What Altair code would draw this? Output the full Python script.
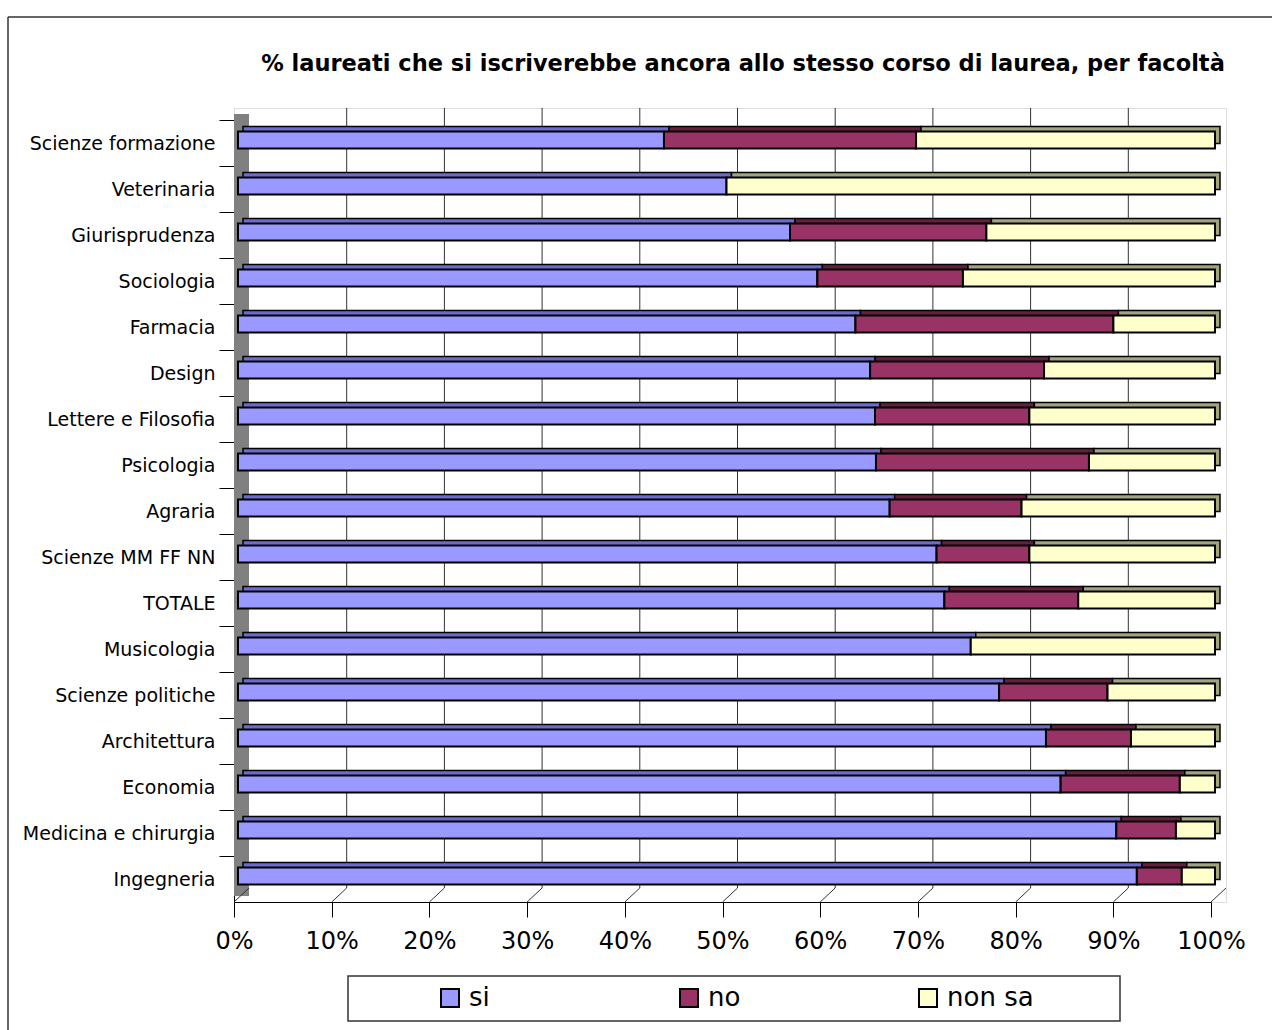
import altair as alt
import pandas as pd

# ---- data ----
facolta = [
    "Scienze formazione", "Veterinaria", "Giurisprudenza", "Sociologia", "Farmacia",
    "Design", "Lettere e Filosofia", "Psicologia", "Agraria", "Scienze MM FF NN",
    "TOTALE", "Musicologia", "Scienze politiche", "Architettura", "Economia",
    "Medicina e chirurgia", "Ingegneria",
]
si = [43.6, 50.0, 56.5, 59.3, 63.2, 64.7, 65.2, 65.3, 66.7, 71.5, 72.3, 75.0, 77.9, 82.7, 84.2, 89.9, 92.0]
no = [25.8, 0.0, 20.1, 14.9, 26.4, 17.8, 15.8, 21.8, 13.5, 9.5, 13.7, 0.0, 11.1, 8.7, 12.2, 6.1, 4.6]
non_sa = [30.6, 50.0, 23.4, 25.8, 10.4, 17.5, 19.0, 12.9, 19.8, 19.0, 14.0, 25.0, 11.0, 8.6, 3.6, 4.0, 3.4]

risposte = ["si", "no", "non sa"]
colori = ["#9999FF", "#993366", "#FFFFCC"]
colori_prof = ["#6B6BD0", "#66203F", "#A3A37E"]
tacche = [0, 10, 20, 30, 40, 50, 60, 70, 80, 90, 100]
griglia = [10, 20, 30, 40, 50, 60, 70, 80, 90]

titolo = "% laureati che si iscriverebbe ancora allo stesso corso di laurea, per facoltà"
FONT = "DejaVu Sans"

rows = []
for i, f in enumerate(facolta):
    for k, (r, vals) in enumerate(zip(risposte, [si, no, non_sa])):
        if vals[i] > 0:
            rows.append({"facolta": f, "risposta": r, "valore": vals[i], "ordine": k})
df = pd.DataFrame(rows)
df_grid = pd.DataFrame({"v": griglia})
df_ticks = pd.DataFrame({"v": tacche})
df_one = pd.DataFrame({"v": [0]})

xscale = alt.Scale(domain=[0, 100], range=[0, 977], nice=False, zero=True)
yscale = alt.Scale(domain=facolta, range=[12, 794], paddingInner=0.63, paddingOuter=0.315)

x_axis = alt.Axis(
    title=None, values=tacche, labelExpr="datum.value + '%'", tickSize=15,
    tickColor="black", domainColor="black", labelFont=FONT, labelFontSize=24,
    labelColor="black", labelPadding=12, labelFlush=False, grid=False,
)
y_axis = alt.Axis(
    title=None, tickSize=15, tickOffset=-23, labelOffset=23, tickColor="black",
    domainColor="black", labelFont=FONT, labelFontSize=19, labelColor="black",
    labelPadding=4, labelLimit=400, grid=False,
)

# legend box (frame behind the legend entries)
legend_box = alt.Chart(df_one).mark_rect(fill="white", stroke="#333333", strokeWidth=1.5).encode(
    x=alt.value(114), x2=alt.value(886), y=alt.value(868), y2=alt.value(913)
)

# left wall
wall = alt.Chart(df_one).mark_rect(color="#808080", x2Offset=15).encode(
    x=alt.X("v:Q", scale=xscale, axis=x_axis),
    x2=alt.X2("v"),
    y=alt.value(6),
    y2=alt.value(788),
)

# back-wall gridlines
grid = alt.Chart(df_grid).mark_rule(color="#333333", strokeWidth=1, xOffset=15).encode(
    x=alt.X("v:Q", scale=xscale, axis=x_axis),
    y=alt.value(0),
    y2=alt.value(780),
)

# floor diagonals
floor = alt.Chart(df_ticks).mark_rule(color="#333333", strokeWidth=1, x2Offset=15).encode(
    x=alt.X("v:Q", scale=xscale, axis=x_axis),
    x2=alt.X2("v"),
    y=alt.value(794),
    y2=alt.value(780),
)

# depth (3D top / end faces)
depth = alt.Chart(df).mark_bar(xOffset=9, yOffset=-8, stroke="black", strokeWidth=1.5).encode(
    y=alt.Y("facolta:N", scale=yscale, axis=y_axis),
    x=alt.X("valore:Q", stack="zero", scale=xscale, axis=x_axis),
    color=alt.Color("risposta:N", scale=alt.Scale(domain=risposte, range=colori_prof), legend=None),
    order=alt.Order("ordine:Q"),
)

front = alt.Chart(df).mark_bar(xOffset=4, yOffset=-3, stroke="black", strokeWidth=2).encode(
    y=alt.Y("facolta:N", scale=yscale, axis=y_axis),
    x=alt.X("valore:Q", stack="zero", scale=xscale, axis=x_axis),
    color=alt.Color(
        "risposta:N",
        scale=alt.Scale(domain=risposte, range=colori),
        legend=alt.Legend(
            title=None, orient="none", legendX=114, legendY=868, direction="horizontal",
            symbolType="square", symbolSize=324, symbolStrokeColor="black", symbolStrokeWidth=2,
            symbolOffset=80, labelOffset=6, columnPadding=40, gridAlign="all",
            labelFont=FONT, labelFontSize=26, labelColor="black", labelLimit=400,
            padding=9,
        ),
    ),
    order=alt.Order("ordine:Q"),
)

# outer frame (left and top edges)
frame_v = alt.Chart(df_one).mark_rule(color="#333333", strokeWidth=1.5).encode(
    x=alt.value(-226), y=alt.value(-91), y2=alt.value(930)
)
frame_h = alt.Chart(df_one).mark_rule(color="#333333", strokeWidth=1.5).encode(
    x=alt.value(-226), x2=alt.value(1050), y=alt.value(-91)
)

chart = (
    alt.layer(legend_box, wall, grid, floor, depth, front, frame_v, frame_h)
    .resolve_scale(color="independent")
    .properties(
        width=992,
        height=794,
        autosize=alt.AutoSizeParams(type="none"),
        padding={"left": 234, "top": 108, "right": 46, "bottom": 128},
        title=alt.Title(
            titolo, font=FONT, fontSize=22.5, fontWeight="bold", color="black",
            anchor="middle", dx=13, offset=0, dy=59,
        ),
    )
    .configure_view(fill="#C0C0C0", stroke="#8C8C8C", strokeWidth=2)
    .configure(background="white")
)

chart.save("out.html", embed_options={"renderer": "svg", "actions": False})
